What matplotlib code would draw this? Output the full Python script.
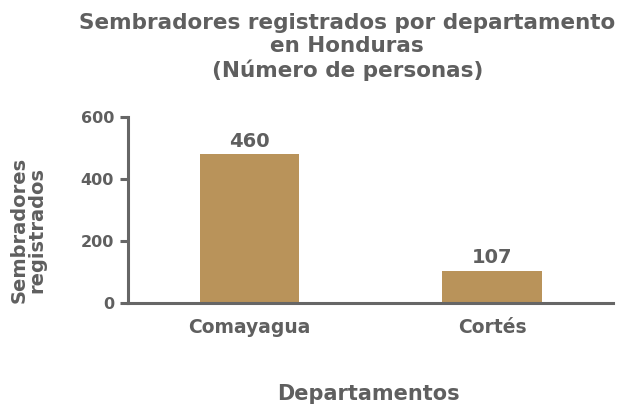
import matplotlib
matplotlib.use("Agg")
import matplotlib.pyplot as plt

# data ----------------------------------------------------------------------
departamentos = ["Comayagua", "Cortés"]
alturas = [480, 104]          # bar heights as drawn
etiquetas = ["460", "107"]    # labels printed above bars
yticks = [0, 200, 400, 600]

GRAY = "#5f5f5f"
BAR = "#b9935a"
plt.rcParams["font.family"] = "DejaVu Sans"
plt.rcParams["font.weight"] = "bold"

fig = plt.figure(figsize=(6.19, 4.05), dpi=100)
ax = fig.add_axes([0.2068, 0.2519, 0.784, 0.459])

x = range(len(departamentos))
bars = ax.bar(x, alturas, width=0.41, color=BAR, zorder=2)
for b, t in zip(bars, etiquetas):
    ax.text(b.get_x() + b.get_width() / 2, b.get_height() + 12, t,
            ha="center", va="bottom", color=GRAY, fontsize=14, fontweight="bold")

ax.set_xlim(-0.5, 1.5)
ax.set_ylim(0, 600)
ax.set_yticks(yticks)
ax.set_xticks(list(x))
ax.set_xticklabels(departamentos)

for s in ("top", "right"):
    ax.spines[s].set_visible(False)
for s in ("left", "bottom"):
    ax.spines[s].set_color("#666666")
    ax.spines[s].set_linewidth(2.2)

ax.tick_params(axis="y", colors="#666666", width=2.2, length=6,
               labelcolor=GRAY, labelsize=11.5, pad=4)
ax.tick_params(axis="x", length=0, labelcolor=GRAY, labelsize=13.5, pad=11)
for lab in ax.get_xticklabels() + ax.get_yticklabels():
    lab.set_fontweight("bold")

fig.text(0.561, 0.884, "Sembradores registrados por departamento\nen Honduras\n(Número de personas)",
         ha="center", va="center", color=GRAY, fontsize=15.5, fontweight="bold",
         linespacing=1.22)
fig.text(0.045, 0.432, "Sembradores\nregistrados", rotation=90, ha="center", va="center",
         color=GRAY, fontsize=14, fontweight="bold", linespacing=0.9)
fig.text(0.596, 0.028, "Departamentos", ha="center", va="center",
         color=GRAY, fontsize=15, fontweight="bold")

fig.savefig("out.png", dpi=100, facecolor="white")
